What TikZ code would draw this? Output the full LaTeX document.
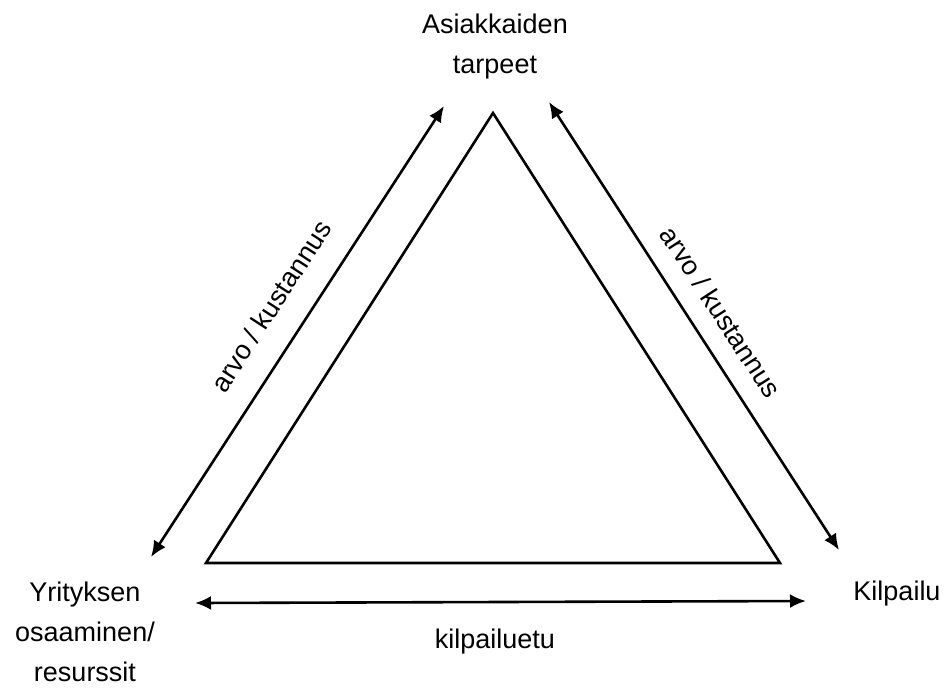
\documentclass[tikz,border=0pt]{standalone}
\usepackage{fontspec}
\setmainfont{Liberation Sans}
\usetikzlibrary{arrows.meta}

\tikzset{
    label/.style={font=\fontsize{27}{40}\selectfont, align=center, inner sep=0pt},
    twoway/.style={black, line width=2.6pt, {Latex[length=16pt,width=14pt]}-{Latex[length=16pt,width=14pt]}}
}

\begin{document}
\begin{tikzpicture}[x=1pt, y=-1pt]
            \useasboundingbox (0,0) rectangle (947,691);

            % kolmio
            \coordinate (top) at (493,113);
            \coordinate (left) at (206,563);
            \coordinate (right) at (780,563);
            \draw[black, line width=2.6pt, line join=miter] (top) -- (right) -- (left) -- cycle;

            % nuolten päät
            \coordinate (lb) at (151,557);
            \coordinate (lt) at (444,106);
            \coordinate (rt) at (549,102);
            \coordinate (rb) at (839,550);
            \coordinate (bl) at (195,603);
            \coordinate (br) at (806,601);

            \draw[twoway] (lb) -- (lt);
            \draw[twoway] (rt) -- (rb);
            \draw[twoway] (bl) -- (br);

            % tekstit
            \node[label] (tarpeet) at (495,47) {Asiakkaiden\\tarpeet};
            \node[label] (yritys) at (85,632) {Yrityksen\\osaaminen/\\resurssit};
            \node[label] (kilpailu) at (897,594) {Kilpailu};
            \node[label] (etu) at (495,642) {kilpailuetu};
            \node[label, rotate=57] (arvovasen) at (271,306) {arvo / kustannus};
            \node[label, rotate=-57] (arvooikea) at (721,312) {arvo / kustannus};
        \end{tikzpicture}
\end{document}
